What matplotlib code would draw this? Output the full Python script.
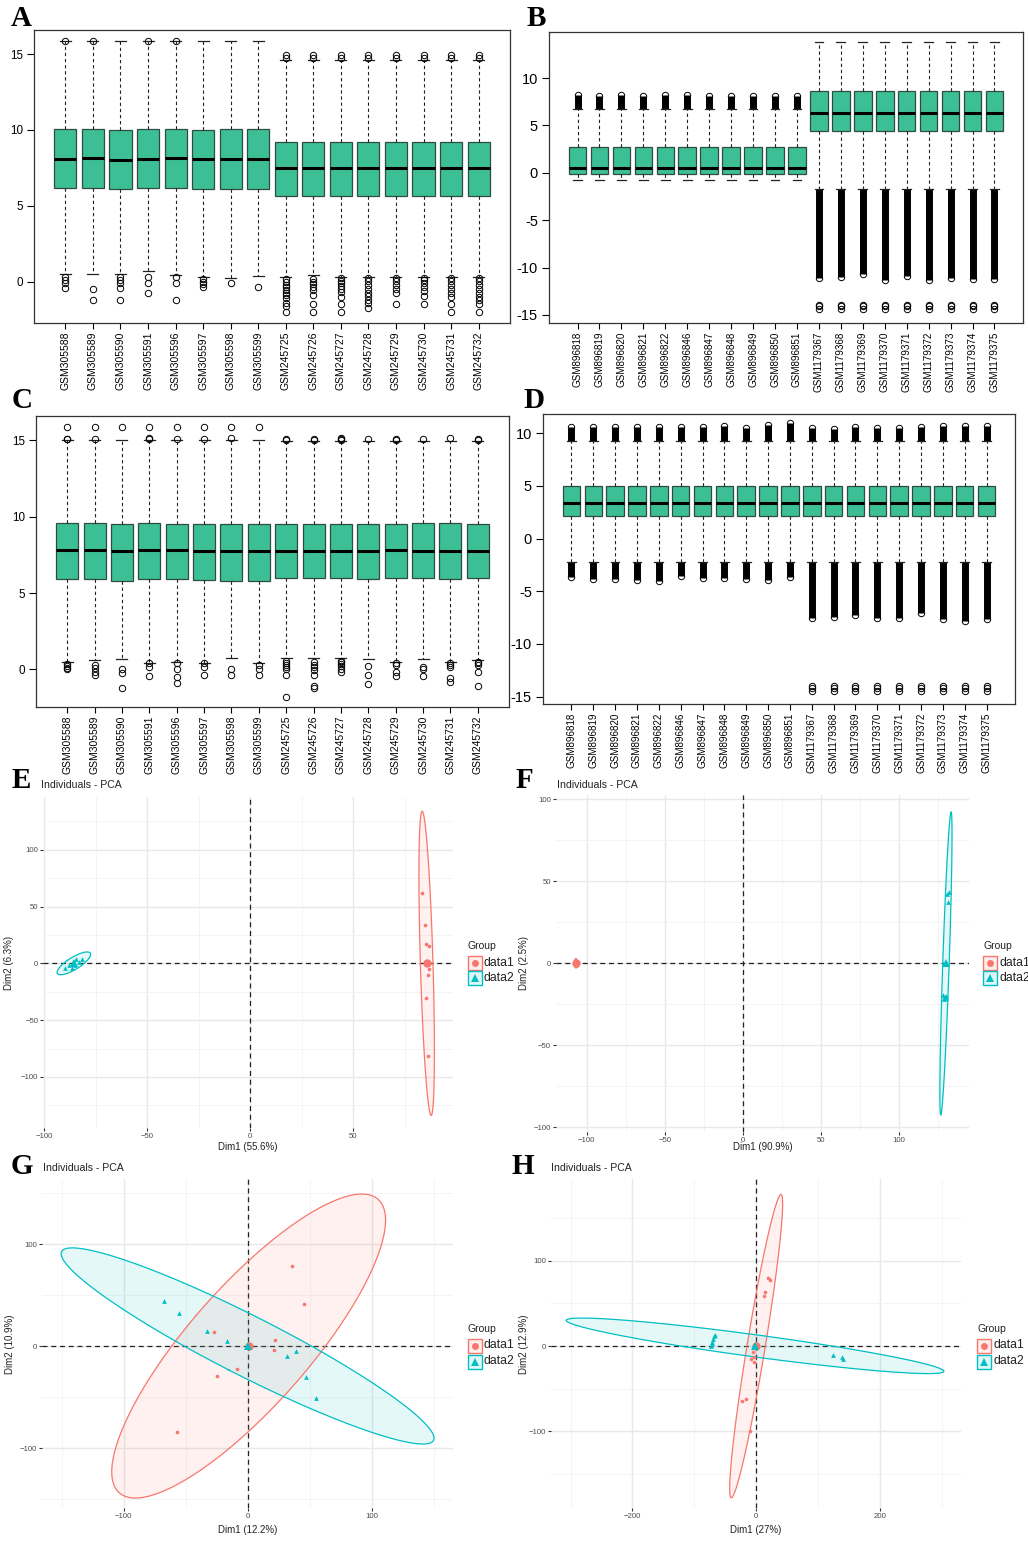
import numpy as np
import matplotlib.pyplot as plt
from matplotlib.patches import Rectangle
from matplotlib.lines import Line2D
from matplotlib.colors import to_rgba

plt.rcParams['font.family'] = ['Liberation Sans', 'DejaVu Sans']

W, H = 1028, 1543
fig = plt.figure(figsize=(W / 100, H / 100), dpi=100)

# ---------------- boxplot data ----------------
a_names = ['GSM305588', 'GSM305589', 'GSM305590', 'GSM305591', 'GSM305596', 'GSM305597',
           'GSM305598', 'GSM305599', 'GSM245725', 'GSM245726', 'GSM245727', 'GSM245728',
           'GSM245729', 'GSM245730', 'GSM245731', 'GSM245732']
a_q1 = [6.18, 6.2, 6.12, 6.18, 6.2, 6.13, 6.1, 6.12, 5.66, 5.66, 5.66, 5.66, 5.66, 5.66, 5.66, 5.66]
a_med = [8.12, 8.13, 8.05, 8.1, 8.13, 8.08, 8.08, 8.1, 7.53, 7.53, 7.53, 7.53, 7.53, 7.53, 7.53, 7.53]
a_q3 = [10.04, 10.04, 10.03, 10.04, 10.04, 10.03, 10.04, 10.04, 9.23, 9.23, 9.23, 9.23, 9.23, 9.23, 9.23, 9.23]
a_whi = [15.84, 15.84, 15.84, 15.84, 15.84, 15.84, 15.84, 15.84, 14.6, 14.6, 14.6, 14.6, 14.6, 14.6, 14.6, 14.6]
a_wlo = [0.53, 0.53, 0.5, 0.72, 0.48, 0.35, 0.28, 0.39, 0.31, 0.48, 0.35, 0.31, 0.31, 0.31, 0.31, 0.31]
a_fliers = [
    [15.86, 0.31, 0.13, -0.05, -0.41],
    [15.86, -0.46, -1.16],
    [0.31, 0.13, -0.09, -0.41, -1.16],
    [15.86, 0.31, -0.05, -0.73],
    [15.86, 0.31, -0.05, -1.16],
    [0.18, 0.02, -0.13, -0.3],
    [-0.05],
    [-0.35],
    [14.93, 14.72, 0.18, 0.0, -0.17, -0.35, -0.53, -0.7, -0.88, -1.05, -1.4, -1.56, -1.99],
    [14.93, 14.72, 0.18, 0.02, -0.15, -0.33, -0.5, -0.85, -1.47, -1.99],
    [14.93, 14.72, 0.24, 0.07, -0.1, -0.28, -0.45, -0.65, -0.96, -1.47, -1.99],
    [14.93, 14.72, 0.24, 0.05, -0.2, -0.45, -0.7, -0.92, -1.2, -1.4, -1.69],
    [14.93, 14.72, 0.24, 0.05, -0.2, -0.45, -0.75, -1.47],
    [14.93, 14.72, 0.24, 0.1, -0.05, -0.3, -0.6, -0.92, -1.47],
    [14.93, 14.72, 0.24, 0.05, -0.2, -0.45, -0.7, -0.96, -1.47, -1.99],
    [14.93, 14.72, 0.24, 0.05, -0.2, -0.45, -0.7, -0.96, -1.2, -1.47, -1.99],
]

c_names = a_names
c_q1 = [5.89, 5.89, 5.8, 5.89, 5.89, 5.85, 5.8, 5.8, 5.96, 5.96, 6.0, 5.92, 5.96, 5.96, 5.89, 5.96]
c_med = [7.82, 7.82, 7.78, 7.82, 7.82, 7.78, 7.73, 7.73, 7.78, 7.78, 7.73, 7.78, 7.8, 7.78, 7.78, 7.78]
c_q3 = [9.56, 9.56, 9.54, 9.56, 9.54, 9.54, 9.52, 9.54, 9.54, 9.54, 9.52, 9.54, 9.54, 9.56, 9.56, 9.54]
c_whi = [15.05, 15.05, 15.05, 15.05, 15.05, 15.05, 15.05, 15.05, 14.96, 14.96, 14.96, 14.96, 14.96, 14.96, 14.96, 14.96]
c_wlo = [0.5, 0.6, 0.65, 0.44, 0.5, 0.44, 0.72, 0.44, 0.72, 0.72, 0.72, 0.65, 0.5, 0.65, 0.5, 0.6]
c_fliers = [
    [15.86, 15.12, 15.08, 0.35, 0.2, 0.1, 0.04],
    [15.86, 15.1, 0.28, 0.1, -0.16, -0.38],
    [15.86, 0.0, -0.22, -1.24],
    [15.86, 15.15, 15.1, 0.39, 0.17, -0.44],
    [15.86, 15.1, 0.39, 0.0, -0.48, -0.88],
    [15.86, 15.1, 0.39, 0.17, -0.38],
    [15.86, 15.15, 0.0, -0.38],
    [15.86, 0.28, 0.0, -0.38],
    [15.1, 15.03, 0.55, 0.42, 0.3, 0.18, 0.05, -0.38, -1.8],
    [15.12, 15.05, 0.45, 0.3, 0.15, -0.05, -0.4, -1.1, -1.2],
    [15.15, 15.1, 15.05, 0.55, 0.45, 0.35, 0.2, 0.05, -0.2],
    [15.1, 0.24, -0.38, -0.93],
    [15.12, 15.05, 0.39, 0.3, -0.2, -0.44],
    [15.08, 0.17, 0.0, -0.44],
    [15.14, 0.39, 0.3, 0.17, -0.6, -0.82],
    [15.12, 15.05, 0.5, 0.39, 0.25, -0.16, -1.1],
]

b_names = ['GSM896818', 'GSM896819', 'GSM896820', 'GSM896821', 'GSM896822', 'GSM896846',
           'GSM896847', 'GSM896848', 'GSM896849', 'GSM896850', 'GSM896851', 'GSM1179367',
           'GSM1179368', 'GSM1179369', 'GSM1179370', 'GSM1179371', 'GSM1179372', 'GSM1179373',
           'GSM1179374', 'GSM1179375']
nan = np.nan
b_q1 = [-0.1] * 11 + [4.44] * 9
b_med = [0.56] * 11 + [6.31] * 9
b_q3 = [2.72] * 11 + [8.63] * 9
b_whi = [6.73] * 11 + [13.77] * 9
b_wlo = [-0.74] * 11 + [-1.69] * 9
# ends of the dense runs of outliers (one value per sample)
b_top_band = [8.17, 8.1, 8.17, 8.15, 8.17, 8.17, 8.15, 8.12, 8.1, 8.12, 8.1] + [nan] * 9
b_low_band = [nan] * 11 + [-11.13, -11.0, -10.7, -11.3, -10.9, -11.3, -11.1, -11.2, -11.2]
b_low_cluster = [[]] * 11 + [[-13.9, -14.1, -14.35]] * 9

d_names = b_names
d_q1 = [2.16] * 20
d_med = [3.39] * 13 + [3.42] + [3.39] * 6
d_q3 = [5.0] * 20
d_whi = [9.31] * 20
d_wlo = [-2.18] * 20
d_top_band = [10.64, 10.6, 10.6, 10.62, 10.62, 10.6, 10.58, 10.7, 10.52, 10.79,
              10.95, 10.5, 10.4, 10.55, 10.48, 10.5, 10.58, 10.7, 10.7, 10.65]
d_low_band = [-3.6, -3.85, -3.85, -3.97, -4.06, -3.52, -3.75, -3.75, -3.85, -3.97, -3.6,
              -7.56, -7.4, -7.24, -7.5, -7.5, -7.02, -7.6, -7.78, -7.65]
d_low_cluster = [[]] * 11 + [[-13.95, -14.2, -14.45]] * 9

# ---------------- PCA data ----------------
e_d1_x = [83.3, 85.1, 85.3, 87.0, 87.0, 86.2, 85.4, 86.4]
e_d1_y = [61.7, 34.0, 17.3, 14.9, -5.0, -10.0, -30.5, -82.0]
e_d2_x = [-89.7, -86.7, -88.1, -85.2, -86.1, -83.1, -84.4, -81.5]
e_d2_y = [-4.1, -4.25, -1.1, -1.2, 1.2, 1.1, 4.2, 4.1]

f_d1_x = [-107.2, -106.8, -107.0, -106.5, -107.5, -106.9, -107.1, -106.7, -107.3, -106.6, -107.4]
f_d1_y = [0.8, -0.5, 1.5, 0.2, -1.2, -1.8, 0.5, 1.0, -0.3, -0.8, 0.6]
f_d2_x = [132.3, 131.0, 131.8, 128.6, 129.9, 130.4, 129.0, 130.2, 128.8]
f_d2_y = [43.6, 42.2, 37.5, -19.5, -20.5, -21.0, -22.0, -20.0, -21.5]

g_d1_x = [35.2, 45.4, -27.4, 22.0, 20.9, -9.1, -25.0, -57.4]
g_d1_y = [78.4, 41.2, 14.0, 6.2, -3.3, -21.9, -28.8, -83.7]
g_d2_x = [-67.4, -55.8, -33.3, -16.6, 38.6, 31.1, 46.4, 54.7]
g_d2_y = [44.1, 33.0, 15.0, 5.2, -4.6, -9.8, -29.8, -50.4]

h_d1_x = [19.4, 21.5, 14.5, 12.4, -4.8, -9.0, -3.2, -3.7, -22.6, -16.6, -10.7]
h_d1_y = [79.5, 78.0, 63.0, 58.7, -6.7, -15.3, -12.5, -19.0, -64.6, -62.6, -99.8]
h_d2_x = [-73.0, -72.0, -71.0, -70.0, -68.0, -66.0, 123.4, 138.0, 140.5]
h_d2_y = [0.5, 2.5, 5.0, 8.0, 12.0, 13.5, -10.6, -13.3, -15.6]

box_fill = '#3dbf95'
red, teal = '#F8766D', '#00BFC4'


def fx(px):
    return px / W


def fy(py):
    return 1 - py / H


def axes_px(x0, y0, x1, y1):
    return fig.add_axes([fx(x0), fy(y1), (x1 - x0) / W, (y1 - y0) / H])


def boxpanel(ax, names, q1, med, q3, wlo, whi, fliers, xlim, ylim, yticks, ysize, xsize,
             top_band=None, low_band=None):
    n = len(names)
    pos = np.arange(1, n + 1)
    stats = []
    for i in range(n):
        stats.append(dict(med=med[i], q1=q1[i], q3=q3[i], whislo=wlo[i], whishi=whi[i],
                          fliers=fliers[i]))
    if top_band is not None:
        for i in range(n):
            if not np.isnan(top_band[i]):
                ax.vlines(pos[i], whi[i], top_band[i], color='black', lw=5.0, zorder=2)
    if low_band is not None:
        for i in range(n):
            if not np.isnan(low_band[i]):
                ax.vlines(pos[i], low_band[i], wlo[i], color='black', lw=5.0, zorder=2)
    ax.bxp(stats, positions=pos, widths=0.8, patch_artist=True, capwidths=0.4,
           manage_ticks=False,
           boxprops=dict(facecolor=box_fill, edgecolor='#2e4c43', lw=0.9),
           medianprops=dict(color='black', lw=2.2),
           whiskerprops=dict(color='#222222', lw=0.8, ls=(0, (3, 2.5))),
           capprops=dict(color='#222222', lw=0.9),
           flierprops=dict(marker='o', ms=4.6, mfc='none', mec='black', mew=0.7))
    ax.set_xlim(xlim)
    ax.set_ylim(ylim)
    ax.set_yticks(yticks, labels=[f'{v:g}' for v in yticks])
    ax.set_xticks(pos)
    ax.set_xticklabels(names, rotation=90, fontsize=xsize)
    ax.tick_params(axis='y', labelsize=ysize, length=5, width=0.8, pad=3)
    ax.tick_params(axis='x', length=4, width=0.8, pad=2)
    for s in ax.spines.values():
        s.set_color('#333333')
        s.set_linewidth(0.9)


def with_cluster(band_a, band_b, cluster):
    out = []
    for i in range(len(cluster)):
        f = [v for v in (band_a[i], band_b[i]) if not np.isnan(v)]
        out.append(f + list(cluster[i]))
    return out


ax = axes_px(34, 30, 510, 323)
boxpanel(ax, a_names, a_q1, a_med, a_q3, a_wlo, a_whi, a_fliers, (-0.14, 17.14), (-2.7, 16.58),
         [0, 5, 10, 15], 8.4, 7.5)

ax = axes_px(549, 32, 1023, 323)
boxpanel(ax, b_names, b_q1, b_med, b_q3, b_wlo, b_whi,
         with_cluster(b_top_band, b_low_band, b_low_cluster),
         (-0.3, 21.3), (-15.85, 14.86), [-15, -10, -5, 0, 5, 10], 10.5, 7.1,
         top_band=b_top_band, low_band=b_low_band)

ax = axes_px(36, 416, 509, 707)
boxpanel(ax, c_names, c_q1, c_med, c_q3, c_wlo, c_whi, c_fliers, (-0.14, 17.14), (-2.47, 16.6),
         [0, 5, 10, 15], 8.4, 7.5)

ax = axes_px(543, 414, 1015, 704)
boxpanel(ax, d_names, d_q1, d_med, d_q3, d_wlo, d_whi,
         with_cluster(d_top_band, d_low_band, d_low_cluster),
         (-0.3, 21.3), (-15.7, 11.83), [-15, -10, -5, 0, 5, 10], 10.5, 7.1,
         top_band=d_top_band, low_band=d_low_band)


def ellipse(x, y, level=0.95, k=200):
    x = np.asarray(x, float)
    y = np.asarray(y, float)
    d2 = len(x) - 1
    fq = d2 / 2 * ((1 - level) ** (-2 / d2) - 1)
    r = np.sqrt(2 * fq)
    vals, vecs = np.linalg.eigh(np.cov(x, y))
    t = np.linspace(0, 2 * np.pi, k)
    circ = np.vstack([np.cos(t), np.sin(t)])
    pts = vecs @ (np.sqrt(np.clip(vals, 0, None))[:, None] * circ) * r
    return x.mean() + pts[0], y.mean() + pts[1]


def pcapanel(ax, d1x, d1y, d2x, d2y, xlim, ylim, xmaj, xmin, ymaj, ymin, xlab, ylab, ylab_x, xlab_y, box):
    x0, y0, x1, y1 = box
    ax.set_xlim(xlim)
    ax.set_ylim(ylim)
    ax.set_xticks(xmaj)
    ax.set_xticks(xmin, minor=True)
    ax.set_yticks(ymaj)
    ax.set_yticks(ymin, minor=True)
    ax.grid(which='major', color='#e8e8e8', lw=1.0)
    ax.grid(which='minor', color='#f3f3f3', lw=0.6)
    ax.set_axisbelow(True)
    for s in ax.spines.values():
        s.set_visible(False)
    ax.tick_params(which='minor', length=0)
    ax.tick_params(which='major', length=2, width=0.8, color='#333333', labelsize=5.6,
                   labelcolor='#4d4d4d', pad=1.5)
    ax.axhline(0, color='#222222', ls=(0, (4, 3)), lw=0.9, zorder=1.5)
    ax.axvline(0, color='#222222', ls=(0, (4, 3)), lw=0.9, zorder=1.5)
    groups = ((d1x, d1y, red, 'o', 2.6), (d2x, d2y, teal, '^', 3.4))
    for xs, ys, col, mk, ms in groups:
        ex, ey = ellipse(xs, ys)
        ax.fill(ex, ey, color=col, alpha=0.1, lw=0, zorder=2)
        ax.plot(ex, ey, color=col, lw=0.9, zorder=2.2)
        ax.plot(xs, ys, mk, color=col, ms=ms, mew=0, zorder=3)
    for xs, ys, col, mk, ms in groups:
        ax.plot(np.mean(xs), np.mean(ys), mk, color=col, ms=6, mew=0, zorder=4)
    ax.set_xlabel(xlab, fontsize=7, color='#222222')
    ax.set_ylabel(ylab, fontsize=7, color='#222222')
    ax.yaxis.set_label_coords((ylab_x - x0) / (x1 - x0), 0.5)
    ax.xaxis.set_label_coords(0.5, (y1 - xlab_y) / (y1 - y0))


def pca_legend(x0, yt):
    fig.text(fx(x0), fy(yt), 'Group', fontsize=7.5, va='center', ha='left', color='#222222')
    for k, (col, mk, lab, ms) in enumerate(((red, 'o', 'data1', 5), (teal, '^', 'data2', 6))):
        yc = yt + 16.5 + 16 * k
        fig.add_artist(Rectangle((fx(x0), fy(yc + 7)), 14 / W, 14 / H, transform=fig.transFigure,
                                 facecolor=to_rgba(col, 0.12), edgecolor=col, lw=1.0))
        fig.add_artist(Line2D([fx(x0 + 7)], [fy(yc)], marker=mk, color=col, ms=ms, mew=0,
                              transform=fig.transFigure))
        fig.text(fx(x0 + 16), fy(yc), lab, fontsize=8.8, va='center', ha='left', color='#222222')


box_e = (43, 797, 453, 1128)
ax = axes_px(*box_e)
pcapanel(ax, e_d1_x, e_d1_y, e_d2_x, e_d2_y, (-100.6, 98.5), (-145, 146.5),
         [-100, -50, 0, 50], [-75, -25, 25, 75],
         [-100, -50, 0, 50, 100], [-125, -75, -25, 25, 75, 125],
         'Dim1 (55.6%)', 'Dim2 (6.3%)', 14, 1142, box_e)
pca_legend(468, 946)

box_f = (555.7, 795, 969, 1131.7)
ax = axes_px(*box_f)
pcapanel(ax, f_d1_x, f_d1_y, f_d2_x, f_d2_y, (-119.9, 145), (-102.8, 102.6),
         [-100, -50, 0, 50, 100], [-75, -25, 25, 75, 125],
         [-100, -50, 0, 50, 100], [-75, -25, 25, 75],
         'Dim1 (90.9%)', 'Dim2 (2.5%)', 529, 1142, box_f)
pca_legend(983, 946)

box_g = (41.7, 1179.3, 453.3, 1508.3)
ax = axes_px(*box_g)
pcapanel(ax, g_d1_x, g_d1_y, g_d2_x, g_d2_y, (-166, 165.3), (-158.8, 163.7),
         [-100, 0, 100], [-150, -50, 50, 150],
         [-100, 0, 100], [-150, -50, 50, 150],
         'Dim1 (12.2%)', 'Dim2 (10.9%)', 15, 1525, box_g)
pca_legend(468, 1329)

box_h = (551.3, 1179.3, 960.7, 1508.3)
ax = axes_px(*box_h)
pcapanel(ax, h_d1_x, h_d1_y, h_d2_x, h_d2_y, (-331, 330), (-190.5, 195.7),
         [-200, 0, 200], [-300, -100, 100, 300],
         [-100, 0, 100], [-150, -50, 50, 150],
         'Dim1 (27%)', 'Dim2 (12.9%)', 529, 1525, box_h)
pca_legend(977, 1329)

# titles and panel letters
for x, y in ((41, 785), (556.7, 785), (42.7, 1167.7), (551.3, 1167.7)):
    fig.text(fx(x), fy(y), 'Individuals - PCA', fontsize=7.6, va='center', ha='left', color='#222222')

for lab, x, y in (('A', 21, 18), ('B', 536, 18), ('C', 22, 400), ('D', 534, 400),
                  ('E', 21, 781), ('F', 524, 781), ('G', 22, 1166), ('H', 523, 1166)):
    fig.text(fx(x), fy(y), lab, fontsize=21, fontweight='bold', va='center', ha='center',
             family=['Liberation Serif', 'DejaVu Serif'])

fig.savefig('out.png', dpi=100)
